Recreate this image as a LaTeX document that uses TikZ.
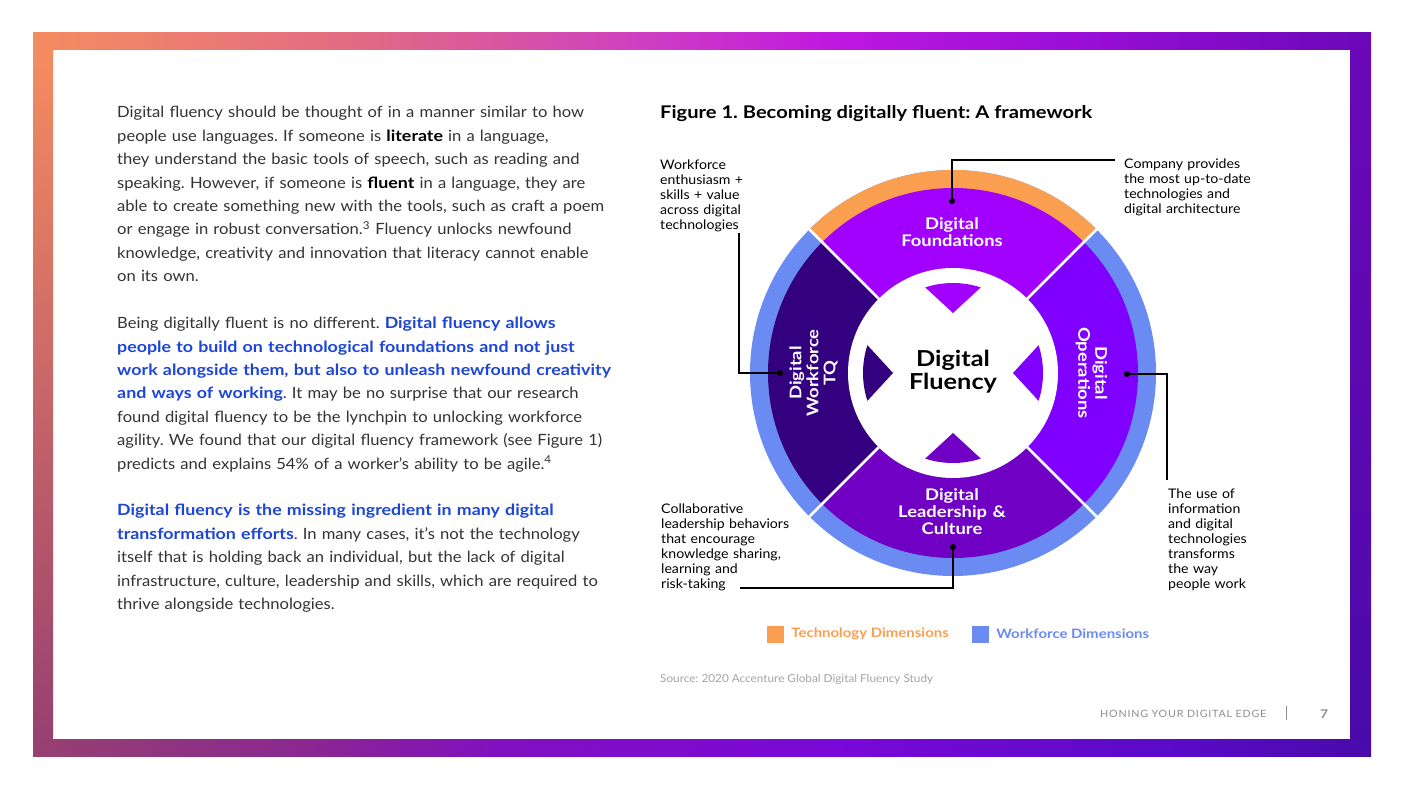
\documentclass[tikz,border=0pt]{standalone}
\usepackage{fontspec}
\setmainfont{Lato}[UprightFeatures={FakeStretch=1.07},BoldFeatures={FakeStretch=1.15}]
\usepackage{tikz}
\usetikzlibrary{positioning}
\frenchspacing

\definecolor{bodygray}{HTML}{333333}
\definecolor{fluentblue}{HTML}{1D46D6}
\definecolor{techorange}{HTML}{FA9F50}
\definecolor{wfblue}{HTML}{6A8CF2}
\definecolor{fdncol}{HTML}{A100FF}
\definecolor{opscol}{HTML}{7F00FF}
\definecolor{leadcol}{HTML}{6F00C4}
\definecolor{tqcol}{HTML}{33007F}
\definecolor{notegray}{HTML}{8E8E8E}
\definecolor{frameA}{HTML}{F58C60}
\definecolor{frameB}{HTML}{E06A85}
\definecolor{frameC}{HTML}{D040C0}
\definecolor{frameD}{HTML}{BE18E0}
\definecolor{frameE}{HTML}{9A0ED8}
\definecolor{frameF}{HTML}{6A08B8}
\definecolor{frameG}{HTML}{984070}
\definecolor{frameH}{HTML}{8A2890}
\definecolor{frameI}{HTML}{8010C0}
\definecolor{frameJ}{HTML}{7A08D8}
\definecolor{frameK}{HTML}{5A0AC8}
\definecolor{frameL}{HTML}{4A0AAA}

\pgfdeclarehorizontalshading{topframe}{100bp}{color(0bp)=(frameA); color(25bp)=(frameA);
  color(37.5bp)=(frameB); color(47.5bp)=(frameC); color(55bp)=(frameD); color(64bp)=(frameE);
  color(75bp)=(frameF); color(100bp)=(frameF)}
\pgfdeclarehorizontalshading{bottomframe}{100bp}{color(0bp)=(frameG); color(25bp)=(frameG);
  color(35bp)=(frameH); color(42.5bp)=(frameI); color(55bp)=(frameJ); color(67.5bp)=(frameK);
  color(75bp)=(frameL); color(100bp)=(frameL)}

\newcommand{\keyphrase}[1]{{\bfseries\color{fluentblue}#1}}

\tikzset{
  body/.style={anchor=base west,inner sep=0pt,text width=560pt,align=left,
    font=\fontsize{15.5}{23.4}\selectfont,text=bodygray},
  note/.style={anchor=base west,inner sep=0pt,text width=140pt,align=left,
    font=\fontsize{13.2}{15}\selectfont},
  seglabel/.style={text=white,align=center,text width=160pt,inner sep=0pt,
    font=\fontsize{16}{17}\selectfont\bfseries},
  dot/.style={circle,fill,inner sep=0pt,minimum size=6pt},
  leader/.style={line width=1.8pt},
  keybox/.style={inner sep=0pt,minimum size=17pt},
  keytext/.style={inner sep=0pt,font=\fontsize{13}{15}\selectfont\bfseries},
}

\begin{document}
\begin{tikzpicture}[x=1pt,y=1pt]
    \useasboundingbox (0,0) rectangle (1403,-789);
    \fill[white] (0,0) rectangle (1403,-789);

    \shade[shading=topframe] (33,-33) rectangle (1371,-50);
    \shade[shading=bottomframe] (33,-739) rectangle (1371,-756);
    \shade[top color=frameA,bottom color=frameG] (33,-50) rectangle (53,-739);
    \shade[top color=frameF,middle color=frameJ,bottom color=frameL] (1350,-50) rectangle (1371,-739);

    \node (para1) at (117,-118) [body] {Digital fluency should be thought of in a manner similar to how\\
      people use languages. If someone is \textbf{\color{black}literate} in a language,\\
      they understand the basic tools of speech, such as reading and\\
      speaking. However, if someone is \textbf{\color{black}fluent} in a language, they are\\
      able to create something new with the tools, such as craft a poem\\
      or engage in robust conversation.\textsuperscript{3} Fluency unlocks newfound\\
      knowledge, creativity and innovation that literacy cannot enable\\
      on its own.};
    \node (para2) at (117,-328.6) [body] {Being digitally fluent is no different. \keyphrase{Digital fluency allows}\\
      \keyphrase{people to build on technological foundations and not just}\\
      \keyphrase{work alongside them, but also to unleash newfound creativity}\\
      \keyphrase{and ways of working}. It may be no surprise that our research\\
      found digital fluency to be the lynchpin to unlocking workforce\\
      agility. We found that our digital fluency framework (see Figure 1)\\
      predicts and explains 54\% of a worker’s ability to be agile.\textsuperscript{4}};
    \node (para3) at (117,-515.8) [body] {\keyphrase{Digital fluency is the missing ingredient in many digital}\\
      \keyphrase{transformation efforts}. In many cases, it’s not the technology\\
      itself that is holding back an individual, but the lack of digital\\
      infrastructure, culture, leadership and skills, which are required to\\
      thrive alongside technologies.};

    \node (title) at (660,-118.5) [anchor=base west,inner sep=0pt,font=\fontsize{17.5}{20}\selectfont\bfseries] {Figure 1. Becoming digitally fluent: A framework};

    \coordinate (c) at (953,-373);
    \fill[wfblue] (c) circle (203);
    \fill[techorange] (c) -- +(45:203) arc[start angle=45,end angle=135,radius=203] -- cycle;
    \foreach \a/\col in {45/fdncol,135/tqcol,225/leadcol,315/opscol}
      \fill[\col] (c) -- +(\a:185) arc[start angle=\a,end angle=\a+90,radius=185] -- cycle;
    \fill[white] (c) circle (105);
    \foreach \a in {45,135,225,315}
      \draw[white,line width=2.5pt] (c) ++(\a:104) -- ++(\a:102);
    \foreach \a/\col in {90/fdncol,180/tqcol,270/leadcol,0/opscol}
      \fill[\col] (c) ++(\a-18:90) arc[start angle=\a-18,end angle=\a+18,radius=90] -- ([shift={(\a:60)}]c) -- cycle;

    \node (fluency) at (953,-372) [align=center,inner sep=0pt,font=\fontsize{22}{23}\selectfont\bfseries] {Digital\\Fluency};
    \node (fdn) at (952,-232.5) [seglabel] {Digital\\Foundations};
    \node (lead) at (952,-511.5) [seglabel] {Digital\\Leadership \&\\Culture};
    \node (tq) at (813.5,-373) [seglabel,rotate=90] {Digital\\Workforce\\TQ};
    \node (ops) at (1091.5,-373) [seglabel,rotate=-90] {Digital\\Operations};

    \node (fdndot) at (952,-201) [dot] {};
    \node (tqdot) at (780,-373) [dot] {};
    \node (opsdot) at (1127,-374) [dot] {};
    \node (leaddot) at (953,-547) [dot] {};
    \coordinate (fdnend) at (1115,-160);
    \coordinate (tqend) at (739,-233);
    \coordinate (opsend) at (1167,-480);
    \coordinate (leadend) at (740,-588);
    \draw[leader] (fdndot.center) |- (fdnend);
    \draw[leader] (tqdot.center) -| (tqend);
    \draw[leader] (opsdot.center) -| (opsend);
    \draw[leader] (leaddot.center) |- (leadend);

    \node (fdnnote) at (1124,-168.5) [note] {Company provides\\the most up-to-date\\technologies and\\digital architecture};
    \node (tqnote) at (660,-169.5) [note] {Workforce\\enthusiasm +\\skills + value\\across digital\\technologies};
    \node (opsnote) at (1168,-498.5) [note] {The use of\\information\\and digital\\technologies\\transforms\\the way\\people work};
    \node (leadnote) at (661,-513.5) [note] {Collaborative\\leadership behaviors\\that encourage\\knowledge sharing,\\learning and\\risk-taking};

    \node (techkey) at (775.5,-634) [keybox,fill=techorange] {};
    \node (techtext) [keytext,text=techorange,right=7pt of techkey] {Technology Dimensions};
    \node (wfkey) at (980.5,-634) [keybox,fill=wfblue] {};
    \node (wftext) [keytext,text=wfblue,right=7pt of wfkey] {Workforce Dimensions};

    \node (source) at (660,-682.5) [anchor=base west,inner sep=0pt,text=notegray!80,font=\fontsize{11}{12}\selectfont] {Source: 2020 Accenture Global Digital Fluency Study};

    \node (footer) at (1100,-717.5) [anchor=base west,inner sep=0pt,text=notegray,font=\fontsize{10}{12}\selectfont\addfontfeature{LetterSpace=8}] {HONING YOUR DIGITAL EDGE};
    \draw[notegray,line width=0.8pt] (1286.5,-706) -- (1286.5,-720);
    \node (pagenum) at (1324,-714) [inner sep=0pt,text=notegray,font=\fontsize{12}{12}\selectfont\bfseries] {7};
  \end{tikzpicture}
\end{document}
